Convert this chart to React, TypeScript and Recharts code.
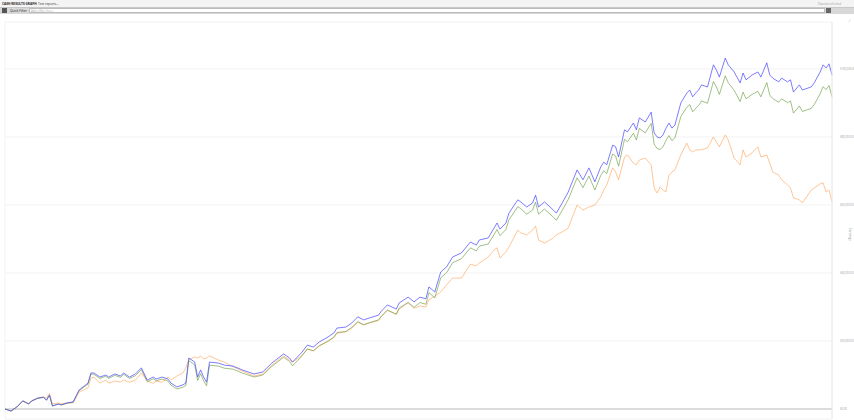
import React from 'react';
import { LineChart, Line, XAxis, YAxis, CartesianGrid, ReferenceLine } from 'recharts';

const tradeIndex = [0,2,4,6,8,9,11,13,14,15,16,18,19,21,23,25,28,29,30,32,34,35,37,39,40,42,44,46,48,50,51,53,55,56,58,60,61,62,64,65,66,67,68,69,72,74,77,80,84,87,90,94,96,97,100,102,104,106,109,111,112,115,117,119,121,123,126,127,129,132,133,136,138,140,142,143,145,147,149,151,154,157,159,160,163,165,166,167,169,170,173,174,176,178,179,180,182,185,186,188,190,193,195,197,199,201,202,203,205,206,207,209,210,212,213,214,216,218,219,220,221,222,223,224,225,226,228,230,231,232,233,234,235,237,239,240,241,243,244,246,248,249,250,252,254,255,257,258,259,261,262,264,265,266,268,269,272,273,275,276,277,278,279];

const grossEarnings = [0,-600,600,2400,1500,2400,3200,3500,2600,4100,900,1500,1200,1800,2100,5600,7600,10600,10600,9400,10000,9400,10300,9700,10600,9400,10300,12100,8500,9400,8800,9400,8800,7600,6500,7100,7600,15000,13800,9400,11500,9400,7900,13800,13500,12900,12600,11500,10300,10900,13500,16200,15000,13800,16500,18800,18200,19700,21200,22400,23800,24100,25300,27100,26200,26800,27600,28800,30600,29400,31200,32900,31500,32900,32400,35900,34400,40300,41800,44700,45900,49100,48200,49700,50300,53200,54700,52900,54700,57600,61500,60900,59400,60600,62900,59400,60900,58500,57600,60600,63800,70300,67400,70900,66800,71200,72600,71800,77600,77100,74100,82100,81500,84100,82100,85600,84400,87300,81200,80000,79700,80600,82600,84100,82600,83500,90000,92900,93800,91800,92900,93800,95300,94700,101200,99700,97600,103200,101200,99100,95900,98800,96800,98200,99100,97600,101800,98200,97300,96200,97300,96200,96800,93200,95300,93800,94700,95900,99100,101200,100300,101500,98200];

const netEarnings = [0,-600,600,2300,1500,2300,3100,3400,2600,4000,900,1400,1200,1700,2000,5400,7300,10300,10200,9000,9600,9000,9900,9300,10200,9000,9800,11600,8000,8900,8300,8800,8200,7000,5900,6400,6900,14200,13000,8400,10400,8300,6800,12900,12600,12000,11700,10600,9400,10000,12500,15200,14000,12700,15400,17700,17100,18600,20000,21200,22500,22800,24000,25700,24800,25400,26200,27300,29100,27900,29700,31300,29900,31300,30800,34200,32700,38600,40100,43000,44200,47400,46500,47900,48500,51300,52800,51000,52800,55600,59500,58900,57300,58500,60800,57300,58800,56400,55500,58400,61600,68000,65100,68500,64400,68700,70100,69200,75000,74400,71400,79300,78600,81100,79100,82500,81200,84000,77900,76600,76300,77100,79000,80400,78900,79700,86000,88700,89500,87400,88400,89200,90600,89900,96300,94700,92500,98000,95900,93700,90400,93200,91200,92500,93400,91800,96000,92300,91300,90200,91200,90100,90600,87000,89100,87500,88400,89500,92700,94800,93900,95100,91800];

const afterCostEarnings = [0,-600,600,2400,1500,2400,3200,3500,3200,4600,1500,1800,1500,1800,1800,5000,6200,9100,9400,7600,8500,7600,8200,7900,8500,7900,8500,10600,8200,7600,8200,7900,9400,8500,9700,10600,12100,14400,15300,15000,15600,14700,15000,15600,14400,13800,12400,11200,9700,10300,12900,15600,14400,13800,15600,17600,17100,18500,19900,21000,22300,22700,23800,25500,24700,25300,26000,27200,29000,27800,29400,31300,29600,30300,30000,32100,33200,34400,36500,38500,38500,42600,42100,42900,44700,46800,47400,44400,46200,47600,52600,51800,51200,52600,53800,49700,48800,50300,51200,52100,53200,60000,58500,59400,60000,62400,64400,65900,70900,69700,67400,74100,74700,72300,71800,73200,73800,71800,65000,63500,65300,64400,63800,68800,69700,70300,74700,78200,76200,75600,76200,76200,76200,76800,80000,78500,77100,80600,79100,73800,71800,76200,74100,75300,77100,74100,74700,72300,69700,68800,67400,65900,65000,62100,61500,60600,64400,65000,66200,66500,63800,64400,60900];

const yTicks = [0, 20000, 40000, 60000, 80000, 100000];
const xTicks = [0, 50, 100, 150, 200, 250];

const data = tradeIndex.map((t, k) => ({
  trade: t,
  gross: grossEarnings[k],
  net: netEarnings[k],
  afterCost: afterCostEarnings[k],
}));

const fmt = (v: number) =>
  '$' + v.toLocaleString('en-US', { minimumFractionDigits: 2, maximumFractionDigits: 2 });

const tiny: React.CSSProperties = { position: 'absolute', fontSize: 3.2, lineHeight: '4px', whiteSpace: 'nowrap' };

export default function App() {
  return (
    <div style={{ position: 'absolute', left: 0, top: 0, width: 854, height: 420, overflow: 'hidden', background: '#fff', fontFamily: '"Open Sans", "DejaVu Sans", sans-serif' }}>
      <div style={{ position: 'absolute', left: 0, top: 0, width: 854, height: 7, background: '#f4f4f4' }} />
      <div style={{ ...tiny, left: 2, top: 1.5, fontWeight: 700, color: '#222' }}>CASH RESULTS GRAPH</div>
      <div style={{ ...tiny, left: 38, top: 1.5, color: '#333' }}>Test reports...</div>
      <div style={{ ...tiny, left: 818, top: 2, color: '#999', fontSize: 2.6 }}>Data last refreshed</div>
      <div style={{ position: 'absolute', left: 0, top: 7, width: 854, height: 7, background: '#d8d8d8', borderTop: '1px solid #c8c8c8', boxSizing: 'border-box' }} />
      <div style={{ position: 'absolute', left: 2, top: 8, width: 5, height: 5, background: '#555' }} />
      <div style={{ ...tiny, left: 10, top: 8.5, color: '#222' }}>Quick Filter</div>
      <div style={{ position: 'absolute', left: 29, top: 8, width: 796, height: 5, background: '#fff', border: '1px solid #bbb', boxSizing: 'border-box' }} />
      <div style={{ ...tiny, left: 31, top: 8.5, color: '#aaa', fontSize: 2.8 }}>Add a filter here...</div>
      <div style={{ position: 'absolute', left: 826, top: 8, width: 5, height: 5, background: '#666' }} />
      <div style={{ ...tiny, left: 848, top: 19, color: '#bbb' }}>⤢</div>
      <div style={{ ...tiny, left: 848, top: 228, color: '#999', writingMode: 'vertical-rl' }}>Earnings</div>
      <div style={{ position: 'absolute', left: 0, top: 17 }}>
        <LineChart width={854} height={410} data={data} margin={{ top: 5, right: 2, bottom: 8, left: 5 }}>
          <CartesianGrid stroke="#f2f2f2" strokeWidth={1} />
          <XAxis
            dataKey="trade"
            type="number"
            domain={[0, 279]}
            ticks={xTicks}
            orientation="top"
            height={0}
            tick={false}
            tickLine={false}
            axisLine={{ stroke: '#eaeaea' }}
          />
          <YAxis
            orientation="right"
            width={20}
            domain={[-2940, 113800]}
            ticks={yTicks}
            tickFormatter={fmt}
            tick={{ fontSize: 2.7, fill: '#9a9a9a' }}
            tickLine={false}
            tickMargin={2}
            axisLine={{ stroke: '#eaeaea' }}
            allowDataOverflow
          />
          <ReferenceLine y={0} stroke="#dcdcdc" strokeWidth={2} />
          <Line type="linear" dataKey="afterCost" stroke="#ffa050" strokeOpacity={0.6} strokeWidth={1} dot={false} isAnimationActive={false} />
          <Line type="linear" dataKey="net" stroke="#6f9e45" strokeOpacity={0.65} strokeWidth={1} dot={false} isAnimationActive={false} />
          <Line type="linear" dataKey="gross" stroke="#4646ff" strokeOpacity={0.7} strokeWidth={1} dot={false} isAnimationActive={false} />
        </LineChart>
      </div>
    </div>
  );
}
